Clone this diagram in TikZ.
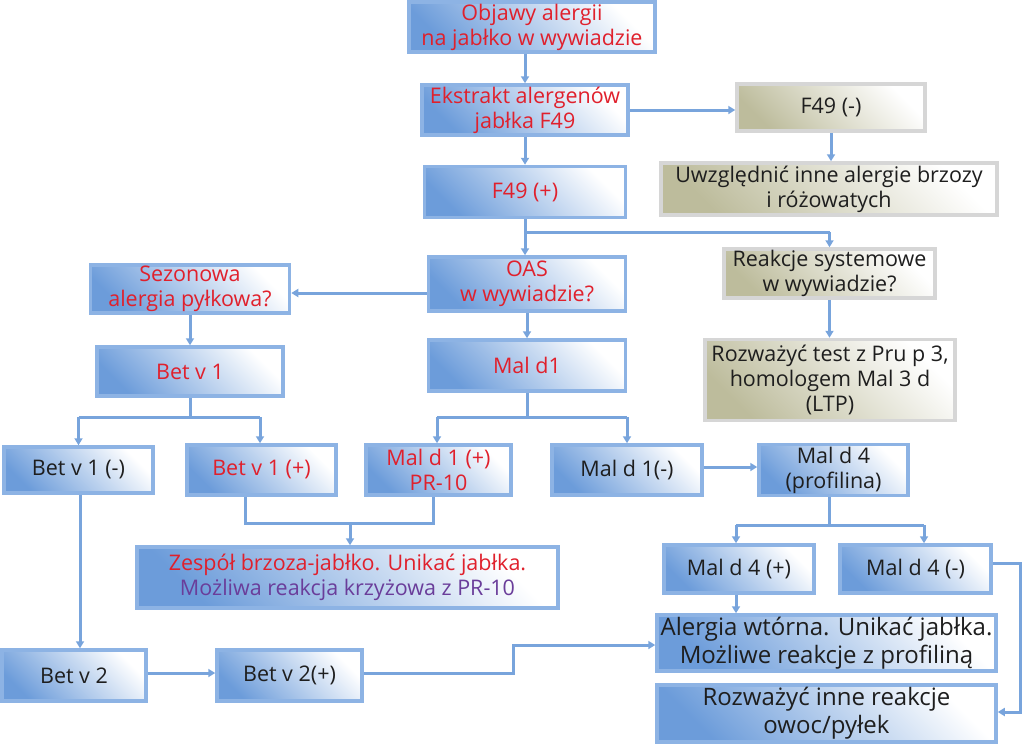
\documentclass[tikz,border=0pt]{standalone}
\usepackage{fontspec}
\setmainfont{Open Sans}
\usetikzlibrary{arrows.meta}
\definecolor{bdark}{HTML}{6C9CDA}
\definecolor{bborder}{HTML}{8DB3E4}
\definecolor{odark}{HTML}{BDBC9C}
\definecolor{oborder}{HTML}{D6D6D6}
\definecolor{lineblue}{HTML}{78A4DC}
\definecolor{tred}{HTML}{E0202C}
\definecolor{tblack}{HTML}{1E1E1E}
\definecolor{tpurple}{HTML}{6A3D9A}
\tikzset{
  bbox/.style={rectangle, draw=bborder, line width=3.5pt, left color=bdark, right color=white, shading angle=135, align=center, inner sep=1pt, font=\fontsize{21.5}{25}\selectfont, text=tblack},
  obox/.style={bbox, draw=oborder, left color=odark, right color=white, shading angle=135},
  big/.style={font=\fontsize{24}{28}\selectfont},
  arr/.style={draw=lineblue, line width=3pt, -{Triangle[length=7pt,width=8pt]}},
  ln/.style={draw=lineblue, line width=3pt},
}
\begin{document}
\begin{tikzpicture}[x=1pt,y=-1pt]
\useasboundingbox (0,0) rectangle (1024,744);
\node[bbox, minimum width=246pt, minimum height=50pt, text=tred] (n1) at (532,27) {Objawy alergii\\na jabłko w wywiadzie};
\node[bbox, minimum width=206pt, minimum height=50pt, text=tred] (n2) at (525,110) {Ekstrakt alergenów\\jabłka F49};
\node[obox, minimum width=188pt, minimum height=47pt] (n3) at (831,107.5) {F49 (-)};
\node[obox, minimum width=336pt, minimum height=52pt] (n4) at (829,189) {Uwzględnić inne alergie brzozy\\i różowatych};
\node[bbox, minimum width=201pt, minimum height=51pt, text=tred] (n5) at (525,192) {F49 (+)};
\node[bbox, minimum width=199pt, minimum height=48pt, text=tred] (n6) at (190,289) {Sezonowa\\alergia pyłkowa?};
\node[bbox, minimum width=197pt, minimum height=54pt, text=tred] (n7) at (527,284) {OAS\\w wywiadzie?};
\node[obox, minimum width=211pt, minimum height=49pt] (n8) at (829.5,273.5) {Reakcje systemowe\\w wywiadzie?};
\node[bbox, minimum width=186pt, minimum height=49pt, text=tred] (n9) at (190,371.5) {Bet v 1};
\node[bbox, minimum width=197pt, minimum height=51pt, text=tred] (n10) at (527,365.5) {Mal d1};
\node[obox, minimum width=250pt, minimum height=81pt] (n11) at (830,380) {Rozważyć test z Pru p 3,\\homologem Mal 3 d\\(LTP)};
\node[bbox, minimum width=149pt, minimum height=46pt] (n12) at (78.5,470) {Bet v 1 (-)};
\node[bbox, minimum width=149pt, minimum height=50pt, text=tred] (n13) at (261.5,470) {Bet v 1 (+)};
\node[bbox, minimum width=145pt, minimum height=50pt, text=tred] (n14) at (438.5,470) {Mal d 1 (+)\\PR-10};
\node[bbox, minimum width=150pt, minimum height=50pt] (n15) at (627,470) {Mal d 1(-)};
\node[bbox, minimum width=149pt, minimum height=51pt] (n16) at (833.5,470) {Mal d 4\\(profilina)};
\node[bbox, minimum width=421pt, minimum height=61pt, text=tred] (n17) at (347.5,577.5) {Zespół brzoza-jabłko. Unikać jabłka.\\\textcolor{tpurple}{Możliwa reakcja krzyżowa z PR-10}};
\node[bbox, minimum width=150pt, minimum height=48pt] (n18) at (739,569) {Mal d 4 (+)};
\node[bbox, minimum width=151pt, minimum height=48pt] (n19) at (915.5,569) {Mal d 4 (-)};
\node[bbox, minimum width=144pt, minimum height=51pt] (n20) at (74,675.5) {Bet v 2};
\node[bbox, minimum width=145pt, minimum height=51pt] (n21) at (289.5,675.5) {Bet v 2(+)};
\node[bbox, big, minimum width=339pt, minimum height=56pt] (n22) at (826.5,643) {Alergia wtórna. Unikać jabłka.\\Możliwe reakcje z profiliną};
\node[bbox, big, minimum width=339pt, minimum height=57pt] (n23) at (826.5,713.5) {Rozważyć inne reakcje\\owoc/pyłek};
% coordinates
\coordinate (j1) at (525,232);
\coordinate (j2) at (190,417);
\coordinate (j3) at (527,417);
\coordinate (j4) at (829,525);
\coordinate (j5) at (350,523);
\coordinate (c1) at (513,673);
\coordinate (c2) at (1020,563);
% connectors
\draw[arr] (n1.south -| n2.north) -- (n2.north);
\draw[arr] (n2.east) -- (n3.west |- n2.east);
\draw[arr] (n3.south) -- (n3.south |- n4.north);
\draw[arr] (n2.south) -- (n5.north);
\draw[ln] (n5.south) -- (j1) -- (j1 -| n8.north);
\draw[arr] (j1 -| n8.north) -- (n8.north);
\draw[arr] (j1) -- (n7.north -| j1);
\draw[arr] (n7.west |- 0,293) -- (n6.east |- 0,293);
\draw[arr] (n6.south) -- (n9.north);
\draw[arr] (n7.south -| n10.north) -- (n10.north);
\draw[arr] (n8.south) -- (n8.south |- n11.north);
\draw[ln] (n9.south) -- (j2);
\draw[ln] (j2 -| n12.north) -- (j2 -| 260,0);
\draw[arr] (j2 -| n12.north) -- (n12.north);
\draw[arr] (j2 -| 260,0) -- (260,0 |- n13.north);
\draw[ln] (n10.south) -- (j3);
\draw[ln] (j3 -| 437,0) -- (j3 -| n15.north);
\draw[arr] (j3 -| 437,0) -- (437,0 |- n14.north);
\draw[arr] (j3 -| n15.north) -- (n15.north);
\draw[arr] (n15.east |- 0,467) -- (n16.west |- 0,467);
\draw[ln] (n16.south -| j4) -- (j4);
\draw[ln] (j4 -| 736,0) -- (j4 -| 924,0);
\draw[arr] (j4 -| 736,0) -- (736,0 |- n18.north);
\draw[arr] (j4 -| 924,0) -- (924,0 |- n19.north);
\draw[ln] (n13.south -| 245,0) -- (245,0 |- j5) -- (433,0 |- j5) -- (n14.south -| 433,0);
\draw[arr] (j5) -- (j5 |- n17.north);
\draw[arr] (n12.south -| 80,0) -- (80,0 |- n20.north);
\draw[arr] (n20.east |- 0,673) -- (n21.west |- 0,673);
\draw[arr] (n21.east |- c1) -- (c1) -- (c1 |- 0,645) -- (n22.west |- 0,645);
\draw[arr] (n18.south -| 736,0) -- (736,0 |- n22.north);
\draw[arr] (n19.east |- c2) -- (c2) -- (c2 |- 0,712) -- (n23.east |- 0,712);
\end{tikzpicture}
\end{document}
